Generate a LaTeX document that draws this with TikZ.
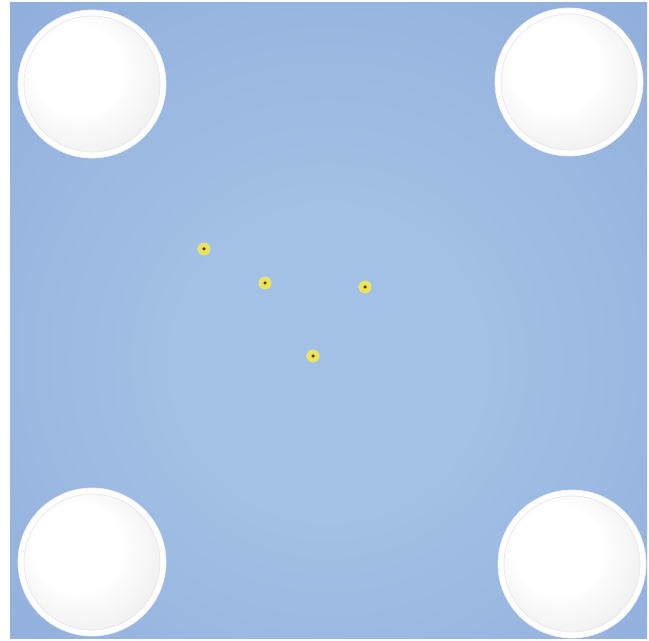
\documentclass[tikz,border=0pt]{standalone}
\usepackage{tikz}
\definecolor{feltlight}{RGB}{163,193,230}
\definecolor{feltdark}{RGB}{136,164,214}
\definecolor{bally}{RGB}{248,228,30}
\definecolor{ballhalo}{RGB}{228,226,130}
\pgfdeclareradialshading{feltshade}{\pgfpoint{0bp}{-4bp}}{color(0bp)=(feltlight); color(12bp)=(feltlight); color(50bp)=(feltdark); color(75bp)=(feltdark!92!black)}
\pgfdeclareradialshading{pocketshade}{\pgfpoint{-7bp}{7bp}}{color(0bp)=(white); color(16bp)=(white); color(36bp)=(black!8); color(50bp)=(black!22); color(62bp)=(black!26)}
\tikzset{pocket/.style = {shape = circle, fill = white, draw = black!6, line width = 0.4pt, minimum size = 2.96cm, inner sep = 0pt}}
\tikzset{pocketin/.style = {shading = pocketshade, draw = black!9, line width = 0.4pt}}
\tikzset{ball/.style = {shape = circle, inner sep = 0pt, minimum size = 0.26cm, shading = radial, inner color = bally, outer color = ballhalo,
	path picture = {\fill[black!75!olive] (path picture bounding box.center) circle (0.035cm);}}}

\begin{document}
\begin{tikzpicture}[x = 0.02cm, y = -0.02cm]
				\useasboundingbox (0, 0) rectangle (649, 641);
				\fill[white] (0, 0) rectangle (649, 641);
				\shade[shading = feltshade] (10, 3) rectangle (647, 638);
	
				% pockets
				\node[pocket] (tl) at (92, 84) {};
				\node[pocket] (tr) at (569, 82) {};
				\node[pocket] (bl) at (92, 562) {};
				\node[pocket] (br) at (572, 564) {};
				\foreach \p in {tl, tr, bl, br}
					\shadedraw[pocketin] (\p) circle (1.36cm);
	
				% balls
				\node[ball] (b1) at (204, 249) {};
				\node[ball] (b2) at (265, 283) {};
				\node[ball] (b3) at (365, 287) {};
				\node[ball] (b4) at (313, 356) {};
			\end{tikzpicture}
\end{document}
